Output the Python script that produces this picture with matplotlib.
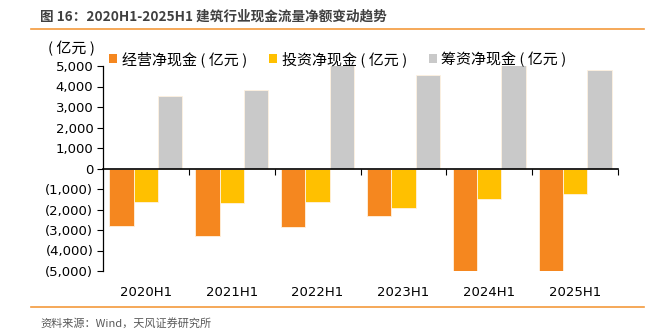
import matplotlib
matplotlib.use("Agg")
import matplotlib.pyplot as plt
import numpy as np
from matplotlib.patches import Patch
from matplotlib.transforms import blended_transform_factory
from matplotlib.ticker import FuncFormatter

plt.rcParams['font.family'] = ['Noto Sans CJK SC', 'DejaVu Sans']

periods = ["2020H1", "2021H1", "2022H1", "2023H1", "2024H1", "2025H1"]
operating = [-2800, -3270, -2860, -2330, -5050, -5000]
investing = [-1620, -1680, -1620, -1910, -1490, -1250]
financing = [3530, 3820, 5300, 4540, 5200, 4790]

series_names = ["经营净现金 ( 亿元 )", "投资净现金 ( 亿元 )", "筹资净现金 ( 亿元 )"]
colors = ["#F5871F", "#FFC000", "#C9C9C9"]

W, H = 654, 335
fig = plt.figure(figsize=(W / 100, H / 100), dpi=100)
ax = fig.add_axes([103 / W, 1 - 271 / H, (618 - 103) / W, (271 - 66) / H])

x = np.arange(len(periods))
bw = 0.283
for i, (vals, c) in enumerate(zip([operating, investing, financing], colors)):
    ax.bar(x + (i - 1) * bw, vals, width=bw, color=c, edgecolor="#FFF2E0",
           linewidth=0.6, zorder=2)

ax.set_xlim(-0.5, len(periods) - 0.5)
ax.set_ylim(-5000, 5000)
ax.set_yticks(np.arange(-5000, 5001, 1000))


def fmt(v, pos):
    v = int(round(v))
    return f"({abs(v):,})" if v < 0 else f"{v:,}"


ax.yaxis.set_major_formatter(FuncFormatter(fmt))
ax.tick_params(axis="y", direction="out", length=4, width=0.8, pad=3,
               labelsize=9.5, colors="black")
for lab in ax.get_yticklabels():
    lab.set_fontfamily("DejaVu Sans")

# category axis sits on the zero line, ticks at group boundaries
ax.spines["bottom"].set_position(("data", 0))
ax.spines["top"].set_visible(False)
ax.spines["right"].set_visible(False)
ax.spines["left"].set_linewidth(0.9)
ax.spines["bottom"].set_linewidth(1.2)
ax.set_xticks(x + 0.5)
ax.tick_params(axis="x", direction="out", length=4, width=0.8, labelbottom=False)

tr = blended_transform_factory(ax.transData, fig.transFigure)
for xi, p in zip(x, periods):
    ax.text(xi, 1 - 293 / H, p, transform=tr, ha="center", va="center",
            fontsize=9.5, family="DejaVu Sans", color="black")

handles = [Patch(facecolor=c, edgecolor="none") for c in colors]
fig.legend(handles, series_names, loc="center left",
           bbox_to_anchor=(109 / W, 1 - 59 / H), ncol=3, frameon=False,
           fontsize=10.8, handlelength=0.55, handleheight=0.55,
           handletextpad=0.3, columnspacing=1.45, borderpad=0,
           borderaxespad=0)

fig.text(48 / W, 1 - 48 / H, "( 亿元 )", fontsize=10.8, va="center", ha="left")

# header and footer
fig.text(40 / W, 1 - 17 / H, "图 16：2020H1-2025H1 建筑行业现金流量净额变动趋势",
         fontsize=9.8, fontweight="bold", color="#404040", va="center")
fig.add_artist(plt.Line2D([31 / W, 644 / W], [1 - 29 / H, 1 - 29 / H],
                          color="#F39A3C", linewidth=1.2))
fig.add_artist(plt.Line2D([31 / W, 644 / W], [1 - 307 / H, 1 - 307 / H],
                          color="#F39A3C", linewidth=1.2))
fig.text(40 / W, 1 - 323 / H, "资料来源：Wind，天风证券研究所",
         fontsize=8, color="#595959", va="center")

fig.savefig("out.png", dpi=100)
